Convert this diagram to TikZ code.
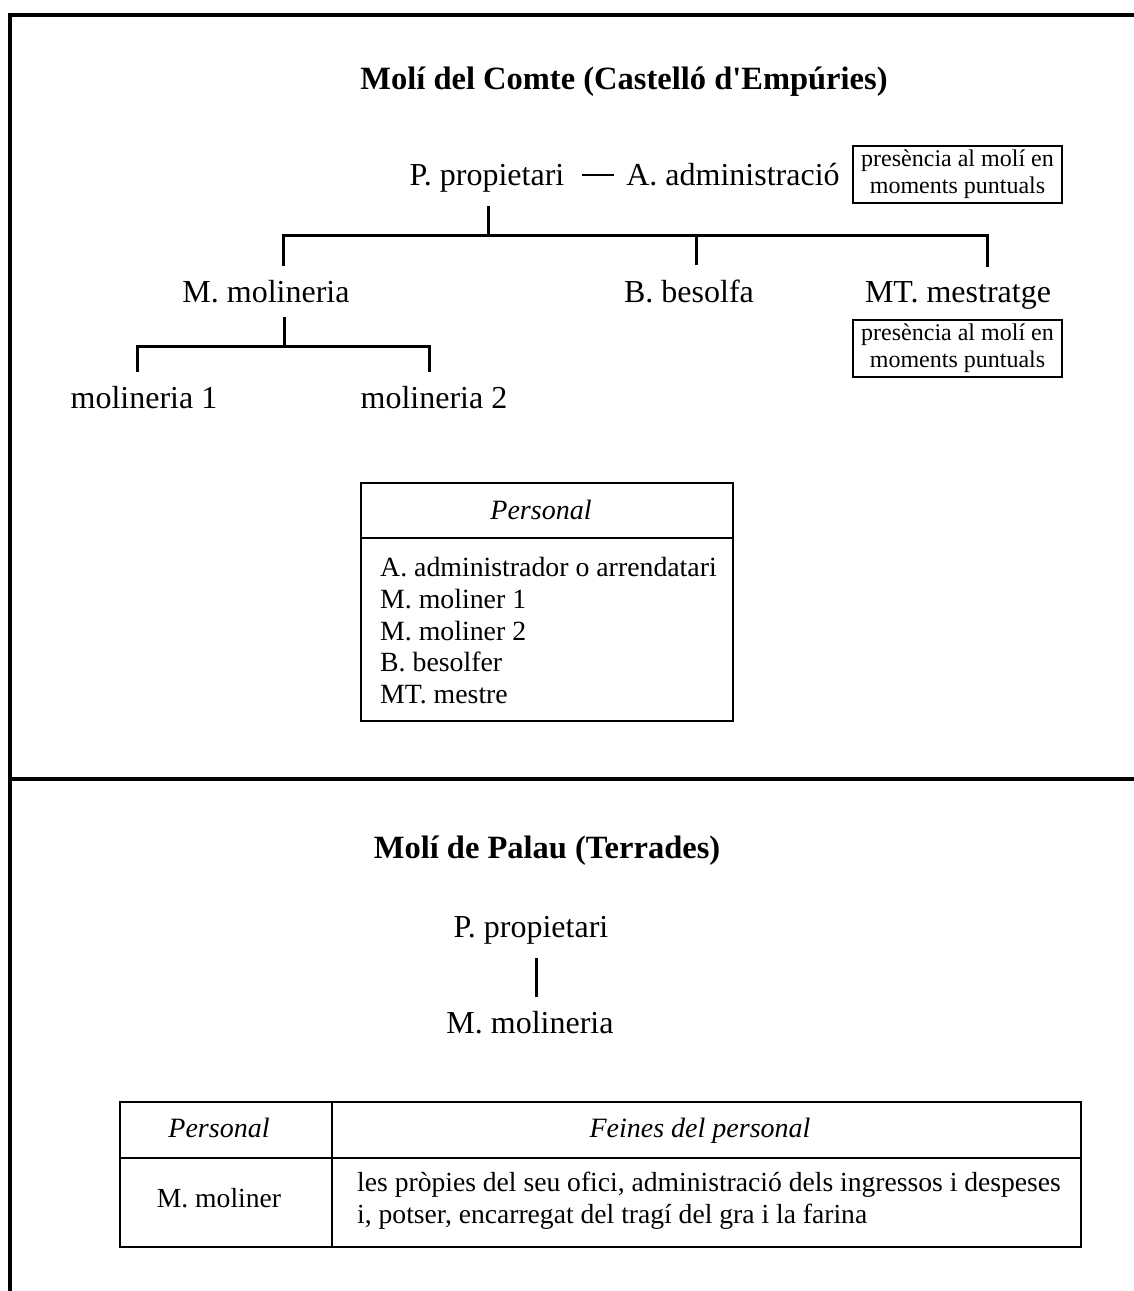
\documentclass[tikz,border=0pt]{standalone}
\usepackage{fontspec}
\setmainfont{Liberation Serif}[Ligatures=TeXOff]
\begin{document}
\begin{tikzpicture}[x=1pt,y=-1pt,
  frame/.style={line width=3.2pt},
  tree/.style={line width=3pt},
  boxline/.style={line width=1.9pt},
  lbl/.style={inner xsep=0pt, inner ysep=14pt, font=\fontsize{32}{38}\selectfont, anchor=base},
  ttl/.style={inner sep=0pt, font=\fontsize{32.5}{38}\selectfont\bfseries, anchor=base},
  note/.style={draw, boxline, minimum width=209pt, minimum height=57pt, inner sep=0pt, align=center, font=\fontsize{24}{27}\selectfont},
  item/.style={inner sep=0pt, anchor=base west, font=\fontsize{27.8}{32}\selectfont},
  hdr/.style={inner sep=0pt, anchor=base, font=\fontsize{28}{32}\selectfont\itshape},
  cell/.style={inner sep=0pt, font=\fontsize{27.6}{32}\selectfont},
  emdash/.style={line width=2.6pt}
]
\useasboundingbox (0,0) rectangle (1133,1291);
% frame
\coordinate (fTL) at (10,15);
\coordinate (fTR) at (1140,15);
\coordinate (fBL) at (10,1300);
\coordinate (mL) at (10,779);
\coordinate (mR) at (1140,779);
\draw[frame] (fTR) -- (fTL) -- (fBL);
\draw[frame] (mL) -- (mR);

% ---------- Moli del Comte ----------
\node[ttl] (t1) at (624,89) {Molí del Comte (Castelló d'Empúries)};
\node[lbl] (pp) at (487,185) {P. propietari};
\node[lbl] (aa) at (733,185) {A. administració};
\draw[emdash] ([xshift=17pt,yshift=10pt]pp.base east) -- ([xshift=-12pt,yshift=10pt]aa.base west);
\node[note] (n1) at (957.5,174.5) {presència al molí en\\moments puntuals};

\node[lbl] (mol) at (266,302) {M. molineria};
\node[lbl] (bes) at (689,302) {B. besolfa};
\node[lbl] (mt) at (958,302) {MT. mestratge};
\node[note] (n2) at (957.5,348.5) {presència al molí en\\moments puntuals};

\coordinate (h1) at (488,235);
\draw[tree] ([xshift=1pt]pp.south) -- ([xshift=1pt]pp.south |- h1);
\draw[tree] ([xshift=17pt]mol.north) |- (h1) -| ([xshift=29pt]mt.north);
\draw[tree] ([xshift=7pt]bes.north) -- ([xshift=7pt]bes.north |- h1);

\node[lbl] (m1) at (144,408) {molineria 1};
\node[lbl] (m2) at (434,408) {molineria 2};
\coordinate (h2) at (284,346);
\draw[tree] ([xshift=18pt]mol.south) -- (h2);
\draw[tree] ([xshift=-7pt]m1.north) |- (h2) -| ([xshift=-5pt]m2.north);

% personal box
\node[draw, boxline, minimum width=372pt, minimum height=238pt, inner sep=0pt] (pbox) at (547,602) {};
\coordinate (s1) at (547,538);
\draw[boxline] (pbox.west |- s1) -- (pbox.east |- s1);
\node[hdr] (ph) at (541,519) {Personal};
\node[item] (i1) at (380,576) {A. administrador o arrendatari};
\node[item] (i2) at (380,608) {M. moliner 1};
\node[item] (i3) at (380,640) {M. moliner 2};
\node[item] (i4) at (380,671) {B. besolfer};
\node[item] (i5) at (380,703) {MT. mestre};

% ---------- Moli de Palau ----------
\node[ttl] (t2) at (547,858) {Molí de Palau (Terrades)};
\node[lbl] (pp2) at (531,937) {P. propietari};
\node[lbl] (mol2) at (530,1033) {M. molineria};
\draw[tree] ([xshift=5pt]pp2.south) -- ([xshift=5pt]pp2.south |- mol2.north);

% table
\node[draw, boxline, minimum width=961pt, minimum height=145pt, inner sep=0pt] (tab) at (600.5,1174.5) {};
\coordinate (c1) at (332,1158);
\draw[boxline] (tab.north -| c1) -- (tab.south -| c1);
\draw[boxline] (tab.west |- c1) -- (tab.east |- c1);
\node[hdr] (th1) at (219,1137) {Personal};
\node[hdr] (th2) at (700,1137) {Feines del personal};
\node[cell, anchor=base] (tc1) at (219,1207) {M. moliner};
\node[cell, anchor=base west] (tl1) at (357,1191) {les pròpies del seu ofici, administració dels ingressos i despeses};
\node[cell, anchor=base west] (tl2) at (357,1223) {i, potser, encarregat del tragí del gra i la farina};
\end{tikzpicture}
\end{document}
